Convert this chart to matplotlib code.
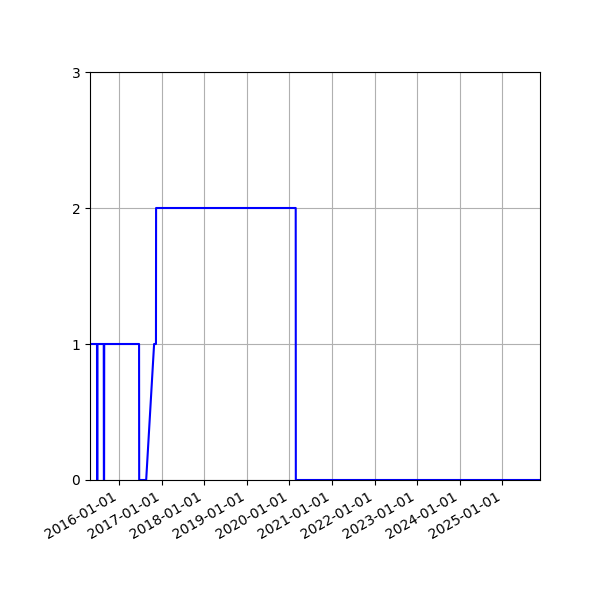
import pandas as pd
import matplotlib
matplotlib.use('Agg')
import matplotlib.pyplot as plt
import matplotlib.dates as mdates

# values
dates = ['2015-04-26', '2015-06-25', '2015-06-26', '2015-06-28', '2015-06-29',
         '2015-08-22', '2015-08-23', '2015-08-25', '2015-08-26',
         '2016-06-20', '2016-06-21', '2016-08-20', '2016-10-27',
         '2016-11-12', '2016-11-13', '2020-02-24', '2020-02-25', '2025-11-20']
values = [1, 1, 0, 0, 1,
          1, 0, 0, 1,
          1, 0, 0, 1,
          1, 2, 2, 0, 0]

x = pd.to_datetime(dates)

fig = plt.figure(figsize=(6, 6), dpi=100)
ax = fig.add_subplot(111)
ax.plot(x, values, color='b')
ax.set_xlim(x[0], x[-1])
ax.set_ylim(0, 3)
ax.set_yticks([0, 1, 2, 3])
ax.xaxis.set_major_locator(mdates.YearLocator())
ax.xaxis.set_major_formatter(mdates.DateFormatter('%Y-%m-%d'))
ax.grid(True)
fig.autofmt_xdate()
fig.subplots_adjust(left=0.15, right=0.9, top=0.88, bottom=0.2)
fig.savefig('out.png')
